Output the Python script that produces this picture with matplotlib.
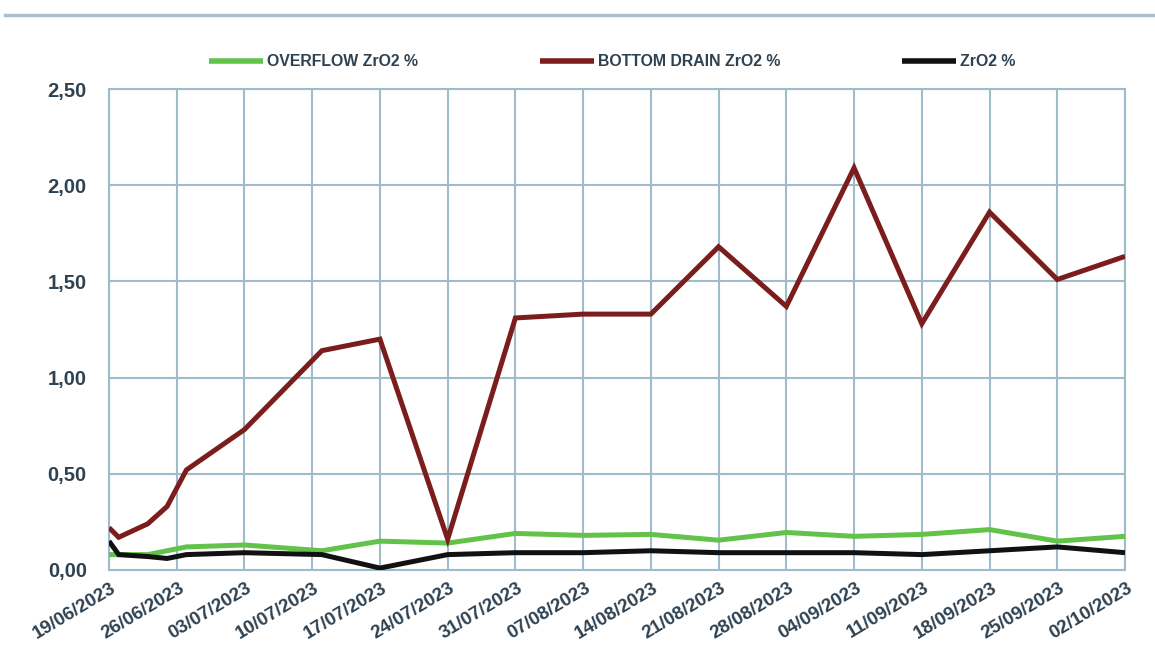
import matplotlib
matplotlib.use("Agg")
import matplotlib.pyplot as plt
import matplotlib.dates as mdates
import matplotlib.transforms as mtransforms
from matplotlib.ticker import FuncFormatter, MultipleLocator
from matplotlib.lines import Line2D
import pandas as pd

# Sampling dates (dd/mm/yyyy)
dates = ["19/06/2023", "20/06/2023", "23/06/2023", "25/06/2023", "27/06/2023",
         "03/07/2023", "11/07/2023", "17/07/2023", "24/07/2023", "31/07/2023",
         "07/08/2023", "14/08/2023", "21/08/2023", "28/08/2023", "04/09/2023",
         "11/09/2023", "18/09/2023", "25/09/2023", "02/10/2023"]

overflow_zro2 = [0.08, 0.08, 0.08, 0.10, 0.12, 0.13, 0.10, 0.15, 0.14, 0.19,
                 0.18, 0.185, 0.155, 0.195, 0.175, 0.185, 0.21, 0.15, 0.175]
bottom_drain_zro2 = [0.22, 0.17, 0.24, 0.33, 0.52, 0.73, 1.14, 1.20, 0.16, 1.31,
                     1.33, 1.33, 1.68, 1.37, 2.09, 1.28, 1.86, 1.51, 1.63]
zro2 = [0.15, 0.08, 0.07, 0.06, 0.08, 0.09, 0.08, 0.01, 0.08, 0.09,
        0.09, 0.10, 0.09, 0.09, 0.09, 0.08, 0.10, 0.12, 0.09]

series_labels = ["OVERFLOW ZrO2 %", "BOTTOM DRAIN ZrO2 %", "ZrO2 %"]
series_colors = ["#63c24a", "#7c1d1d", "#111111"]

x = pd.to_datetime(dates, format="%d/%m/%Y")
tick_dates = pd.date_range("2023-06-19", "2023-10-02", freq="7D")

grid_col = "#9fbccc"
text_col = "#2f4252"
font = ["Liberation Sans", "DejaVu Sans"]

fig = plt.figure(figsize=(11.55, 6.56), dpi=100)
ax = fig.add_axes([109 / 1155, 1 - 570 / 656, (1125 - 109) / 1155, (570 - 89) / 656])

for vals, lab, col in zip([overflow_zro2, bottom_drain_zro2, zro2], series_labels, series_colors):
    ax.plot(x, vals, color=col, lw=3.6, label=lab, solid_joinstyle="miter",
            solid_capstyle="butt", zorder=3)

ax.set_xlim(tick_dates[0], tick_dates[-1])
ax.set_ylim(0, 2.5)
ax.set_xticks(tick_dates)
ax.xaxis.set_major_formatter(mdates.DateFormatter("%d/%m/%Y"))
ax.yaxis.set_major_locator(MultipleLocator(0.5))
ax.yaxis.set_major_formatter(FuncFormatter(lambda v, p: f"{v:.2f}".replace(".", ",")))

ax.grid(True, color=grid_col, lw=1.5, zorder=1)
for s in ax.spines.values():
    s.set_color(grid_col)
    s.set_linewidth(1.5)
ax.tick_params(axis="both", length=0, colors=text_col)
ax.tick_params(axis="y", pad=16)
ax.tick_params(axis="x", pad=12)

for lab in ax.get_yticklabels():
    lab.set_fontfamily(font)
    lab.set_fontweight("bold")
    lab.set_fontsize(14.5)

offset = mtransforms.ScaledTranslation(6 / 100, 0, fig.dpi_scale_trans)
for lab in ax.get_xticklabels():
    lab.set_fontfamily(font)
    lab.set_fontweight("bold")
    lab.set_fontsize(13.5)
    lab.set_rotation(31)
    lab.set_ha("right")
    lab.set_va("center")
    lab.set_rotation_mode("anchor")
    lab.set_transform(lab.get_transform() + offset)

leg_size = 11.4
leg_px = leg_size * 100 / 72
leg = ax.legend(loc="center", bbox_to_anchor=(612 / 1155, 1 - 62 / 656),
                bbox_transform=fig.transFigure, ncol=3, frameon=False,
                prop={"family": font, "weight": "bold", "size": leg_size},
                handlelength=54 / leg_px, handletextpad=4 / leg_px,
                columnspacing=122 / leg_px)
for t in leg.get_texts():
    t.set_color(text_col)
for h in leg.get_lines():
    h.set_linewidth(4)

# Rule across the top of the figure
fig.add_artist(Line2D([5 / 1155, 1], [1 - 15 / 656, 1 - 15 / 656],
                      transform=fig.transFigure, color="#a9c0cd", lw=2.5))

fig.savefig("out.png", dpi=100)
